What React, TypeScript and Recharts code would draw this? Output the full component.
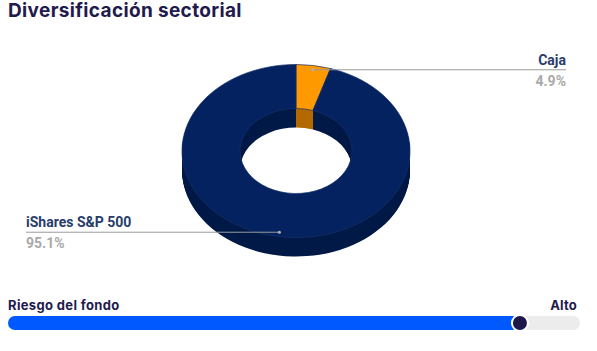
import { PieChart, Pie, Cell, BarChart, Bar, XAxis, YAxis, ReferenceDot } from "recharts";

const sectorNames = ["Caja", "iShares S&P 500"];
const sectorWeights = [4.9, 95.1];
const topColors = ["#ff9900", "#03225f"];
const sideColors = ["#b36a00", "#011a47"];

const riskTitle = "Riesgo del fondo";
const riskLevel = "Alto";
const riskValues = [89.5];

const sectors = sectorNames.map((name, i) => ({ name, value: sectorWeights[i] }));
const risk = [{ name: "riesgo", value: riskValues[0] }];

// geometry of the tilted donut
const CX = 296;
const CY = 151;
const OUTER = 114;
const INNER = 56;
const TILT = 0.759;
const DEPTH = 25; // unscaled, ~19px once tilted

const layers = Array.from({ length: DEPTH }, (_, i) => DEPTH - i);

const ink = "#221a4d";

function SliceLabel(props: any) {
  const { cx, cy, midAngle, outerRadius, name, value } = props;
  const rad = (-midAngle * Math.PI) / 180;
  const r = outerRadius * 0.95;
  const px = cx + r * Math.cos(rad);
  const py = cy + TILT * r * Math.sin(rad);
  const right = Math.cos(rad) > 0;
  const endX = right ? 566 : 26;
  const anchor = right ? "end" : "start";
  return (
    <g>
      <line x1={px} y1={py} x2={endX} y2={py} stroke="#9a9a9a" strokeWidth={1} />
      <circle cx={px} cy={py} r={1.6} fill="#b0b0b0" />
      <text x={endX} y={py - 5} textAnchor={anchor} fontFamily="Roboto" fontWeight={700} fontSize={14} fill="#283c6b">
        {name}
      </text>
      <text x={endX} y={py + 16} textAnchor={anchor} fontFamily="Roboto" fontWeight={700} fontSize={14} fill="#a9a9a9">
        {`${Number(value).toFixed(1)}%`}
      </text>
    </g>
  );
}

export default function App() {
  return (
    <div style={{ position: "absolute", left: 0, top: 0, width: 597, height: 351, background: "#fff", overflow: "hidden" }}>
      <div style={{ position: "absolute", left: 8, top: 0, fontFamily: "Inter", fontWeight: 700, fontSize: 19, letterSpacing: 0.35, lineHeight: "22px", color: ink }}>
        Diversificación sectorial
      </div>

      <div style={{ position: "absolute", left: 0, top: 0, transform: `scaleY(${TILT})`, transformOrigin: `0px ${CY}px` }}>
        <PieChart width={597} height={300} margin={{ top: 0, right: 0, bottom: 0, left: 0 }}>
          {layers.map((d) => (
            <Pie
              key={d}
              data={sectors}
              dataKey="value"
              nameKey="name"
              cx={CX}
              cy={CY + d}
              innerRadius={INNER}
              outerRadius={OUTER}
              startAngle={90}
              endAngle={-270}
              stroke="none"
              isAnimationActive={false}
            >
              {sectors.map((s, i) => <Cell key={s.name} fill={sideColors[i]} />)}
            </Pie>
          ))}
          <Pie
            data={sectors}
            dataKey="value"
            nameKey="name"
            cx={CX}
            cy={CY}
            innerRadius={INNER}
            outerRadius={OUTER}
            startAngle={90}
            endAngle={-270}
            stroke="#16306c"
            strokeWidth={0.8}
            isAnimationActive={false}
          >
            {sectors.map((s, i) => <Cell key={s.name} fill={topColors[i]} />)}
          </Pie>
        </PieChart>
      </div>

      <div style={{ position: "absolute", left: 0, top: 0 }}>
        <PieChart width={597} height={300} margin={{ top: 0, right: 0, bottom: 0, left: 0 }}>
          <Pie
            data={sectors}
            dataKey="value"
            nameKey="name"
            cx={CX}
            cy={CY}
            innerRadius={INNER}
            outerRadius={OUTER}
            startAngle={90}
            endAngle={-270}
            fill="none"
            stroke="none"
            label={SliceLabel}
            labelLine={false}
            isAnimationActive={false}
          />
        </PieChart>
      </div>

      <div style={{ position: "absolute", left: 8, top: 297, fontFamily: "Inter", fontWeight: 700, fontSize: 13, letterSpacing: 0.35, lineHeight: "16px", color: ink }}>
        {riskTitle}
      </div>
      <div style={{ position: "absolute", right: 20, top: 297, fontFamily: "Inter", fontWeight: 700, fontSize: 13, letterSpacing: 0.2, lineHeight: "16px", color: ink }}>
        {riskLevel}
      </div>

      <div style={{ position: "absolute", left: 8, top: 311 }}>
        <BarChart width={572} height={24} data={risk} layout="vertical" margin={{ top: 0, right: 0, bottom: 0, left: 0 }}>
          <XAxis type="number" domain={[0, 100]} hide />
          <YAxis type="category" dataKey="name" hide />
          <Bar
            dataKey="value"
            fill="#0059ff"
            barSize={14}
            radius={7}
            background={{ fill: "#ececec", radius: 7 } as any}
            isAnimationActive={false}
          />
          <ReferenceDot x={riskValues[0]} y="riesgo" r={8} fill="#1f174a" stroke="#fff" strokeWidth={2} />
        </BarChart>
      </div>
    </div>
  );
}
